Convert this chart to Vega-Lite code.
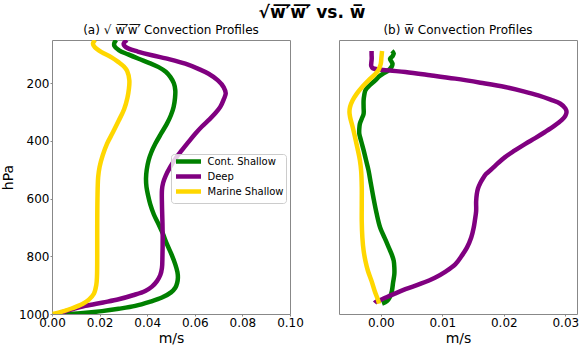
{
  "$schema": "https://vega.github.io/schema/vega-lite/v6.json",
  "padding": {"left": 0, "top": 3, "right": 2, "bottom": 0},
  "background": "white",
  "config": {
    "font": "DejaVu Sans",
    "view": {"stroke": "#888888", "strokeWidth": 1},
    "axis": {"domain": false, "grid": false, "tickColor": "#888888", "tickSize": 2, "labelPadding": 1, "labelFontSize": 12, "labelColor": "#000000", "titleFontSize": 14, "titleFontWeight": "normal", "titleColor": "#000000", "labelFlush": false, "titlePadding": 3},
    "title": {"fontSize": 12, "fontWeight": "normal", "color": "#000000", "offset": 3}
  },
  "title": {"text": "√w̅′̅w̅′̅  vs. w̅", "fontSize": 17, "fontWeight": "bold", "anchor": "middle", "dx": 22, "offset": 2},
  "spacing": 34,
  "resolve": {"scale": {"color": "shared"}, "legend": {"color": "independent"}},
  "datasets": {
    "sd": [
      {"type": "Cont. Shallow", "p": 50, "v": 0.0270},
      {"type": "Cont. Shallow", "p": 60, "v": 0.0262},
      {"type": "Cont. Shallow", "p": 70, "v": 0.0262},
      {"type": "Cont. Shallow", "p": 86, "v": 0.0282},
      {"type": "Cont. Shallow", "p": 100, "v": 0.0320},
      {"type": "Cont. Shallow", "p": 115, "v": 0.0364},
      {"type": "Cont. Shallow", "p": 130, "v": 0.0410},
      {"type": "Cont. Shallow", "p": 144, "v": 0.0448},
      {"type": "Cont. Shallow", "p": 160, "v": 0.0478},
      {"type": "Cont. Shallow", "p": 178, "v": 0.0497},
      {"type": "Cont. Shallow", "p": 200, "v": 0.0512},
      {"type": "Cont. Shallow", "p": 224, "v": 0.0518},
      {"type": "Cont. Shallow", "p": 250, "v": 0.0517},
      {"type": "Cont. Shallow", "p": 282, "v": 0.0511},
      {"type": "Cont. Shallow", "p": 310, "v": 0.0500},
      {"type": "Cont. Shallow", "p": 340, "v": 0.0483},
      {"type": "Cont. Shallow", "p": 375, "v": 0.0458},
      {"type": "Cont. Shallow", "p": 410, "v": 0.0434},
      {"type": "Cont. Shallow", "p": 440, "v": 0.0417},
      {"type": "Cont. Shallow", "p": 467, "v": 0.0406},
      {"type": "Cont. Shallow", "p": 500, "v": 0.0398},
      {"type": "Cont. Shallow", "p": 530, "v": 0.0395},
      {"type": "Cont. Shallow", "p": 560, "v": 0.0397},
      {"type": "Cont. Shallow", "p": 590, "v": 0.0404},
      {"type": "Cont. Shallow", "p": 620, "v": 0.0413},
      {"type": "Cont. Shallow", "p": 655, "v": 0.0428},
      {"type": "Cont. Shallow", "p": 689, "v": 0.0448},
      {"type": "Cont. Shallow", "p": 720, "v": 0.0465},
      {"type": "Cont. Shallow", "p": 758, "v": 0.0483},
      {"type": "Cont. Shallow", "p": 795, "v": 0.0503},
      {"type": "Cont. Shallow", "p": 828, "v": 0.0518},
      {"type": "Cont. Shallow", "p": 855, "v": 0.0527},
      {"type": "Cont. Shallow", "p": 874, "v": 0.0529},
      {"type": "Cont. Shallow", "p": 892, "v": 0.0526},
      {"type": "Cont. Shallow", "p": 909, "v": 0.0518},
      {"type": "Cont. Shallow", "p": 925, "v": 0.0500},
      {"type": "Cont. Shallow", "p": 943, "v": 0.0462},
      {"type": "Cont. Shallow", "p": 958, "v": 0.0410},
      {"type": "Cont. Shallow", "p": 972, "v": 0.0350},
      {"type": "Cont. Shallow", "p": 982, "v": 0.0280},
      {"type": "Cont. Shallow", "p": 990, "v": 0.0210},
      {"type": "Cont. Shallow", "p": 997, "v": 0.0120},
      {"type": "Cont. Shallow", "p": 1000, "v": 0.0050},
      {"type": "Deep", "p": 50, "v": 0.0315},
      {"type": "Deep", "p": 63, "v": 0.0301},
      {"type": "Deep", "p": 72, "v": 0.0306},
      {"type": "Deep", "p": 80, "v": 0.0322},
      {"type": "Deep", "p": 90, "v": 0.0360},
      {"type": "Deep", "p": 103, "v": 0.0420},
      {"type": "Deep", "p": 117, "v": 0.0495},
      {"type": "Deep", "p": 132, "v": 0.0560},
      {"type": "Deep", "p": 150, "v": 0.0615},
      {"type": "Deep", "p": 167, "v": 0.0658},
      {"type": "Deep", "p": 190, "v": 0.0697},
      {"type": "Deep", "p": 213, "v": 0.0721},
      {"type": "Deep", "p": 235, "v": 0.0730},
      {"type": "Deep", "p": 255, "v": 0.0722},
      {"type": "Deep", "p": 282, "v": 0.0707},
      {"type": "Deep", "p": 305, "v": 0.0685},
      {"type": "Deep", "p": 328, "v": 0.0658},
      {"type": "Deep", "p": 350, "v": 0.0630},
      {"type": "Deep", "p": 375, "v": 0.0602},
      {"type": "Deep", "p": 405, "v": 0.0572},
      {"type": "Deep", "p": 432, "v": 0.0546},
      {"type": "Deep", "p": 460, "v": 0.0520},
      {"type": "Deep", "p": 490, "v": 0.0497},
      {"type": "Deep", "p": 520, "v": 0.0478},
      {"type": "Deep", "p": 545, "v": 0.0467},
      {"type": "Deep", "p": 570, "v": 0.0462},
      {"type": "Deep", "p": 620, "v": 0.0462},
      {"type": "Deep", "p": 680, "v": 0.0464},
      {"type": "Deep", "p": 735, "v": 0.0465},
      {"type": "Deep", "p": 800, "v": 0.0464},
      {"type": "Deep", "p": 840, "v": 0.0462},
      {"type": "Deep", "p": 865, "v": 0.0455},
      {"type": "Deep", "p": 886, "v": 0.0441},
      {"type": "Deep", "p": 905, "v": 0.0420},
      {"type": "Deep", "p": 920, "v": 0.0392},
      {"type": "Deep", "p": 935, "v": 0.0340},
      {"type": "Deep", "p": 949, "v": 0.0280},
      {"type": "Deep", "p": 960, "v": 0.0215},
      {"type": "Deep", "p": 972, "v": 0.0140},
      {"type": "Deep", "p": 985, "v": 0.0080},
      {"type": "Deep", "p": 995, "v": 0.0040},
      {"type": "Deep", "p": 1000, "v": 0.0020},
      {"type": "Marine Shallow", "p": 50, "v": 0.0181},
      {"type": "Marine Shallow", "p": 63, "v": 0.0172},
      {"type": "Marine Shallow", "p": 75, "v": 0.0180},
      {"type": "Marine Shallow", "p": 92, "v": 0.0208},
      {"type": "Marine Shallow", "p": 110, "v": 0.0250},
      {"type": "Marine Shallow", "p": 126, "v": 0.0278},
      {"type": "Marine Shallow", "p": 142, "v": 0.0302},
      {"type": "Marine Shallow", "p": 158, "v": 0.0316},
      {"type": "Marine Shallow", "p": 190, "v": 0.0325},
      {"type": "Marine Shallow", "p": 220, "v": 0.0323},
      {"type": "Marine Shallow", "p": 250, "v": 0.0317},
      {"type": "Marine Shallow", "p": 290, "v": 0.0303},
      {"type": "Marine Shallow", "p": 330, "v": 0.0280},
      {"type": "Marine Shallow", "p": 370, "v": 0.0256},
      {"type": "Marine Shallow", "p": 410, "v": 0.0231},
      {"type": "Marine Shallow", "p": 450, "v": 0.0213},
      {"type": "Marine Shallow", "p": 490, "v": 0.0200},
      {"type": "Marine Shallow", "p": 525, "v": 0.0194},
      {"type": "Marine Shallow", "p": 600, "v": 0.0191},
      {"type": "Marine Shallow", "p": 700, "v": 0.0190},
      {"type": "Marine Shallow", "p": 800, "v": 0.0190},
      {"type": "Marine Shallow", "p": 870, "v": 0.0189},
      {"type": "Marine Shallow", "p": 900, "v": 0.0186},
      {"type": "Marine Shallow", "p": 930, "v": 0.0176},
      {"type": "Marine Shallow", "p": 950, "v": 0.0155},
      {"type": "Marine Shallow", "p": 965, "v": 0.0128},
      {"type": "Marine Shallow", "p": 980, "v": 0.0085},
      {"type": "Marine Shallow", "p": 990, "v": 0.0050},
      {"type": "Marine Shallow", "p": 1000, "v": 0.0003}
    ],
    "mean": [
      {"type": "Cont. Shallow", "p": 88, "v": 0.0018},
      {"type": "Cont. Shallow", "p": 97, "v": 0.0021},
      {"type": "Cont. Shallow", "p": 106, "v": 0.0019},
      {"type": "Cont. Shallow", "p": 115, "v": 0.0015},
      {"type": "Cont. Shallow", "p": 124, "v": 0.0017},
      {"type": "Cont. Shallow", "p": 132, "v": 0.0019},
      {"type": "Cont. Shallow", "p": 141, "v": 0.0018},
      {"type": "Cont. Shallow", "p": 150, "v": 0.0015},
      {"type": "Cont. Shallow", "p": 158, "v": 0.0011},
      {"type": "Cont. Shallow", "p": 165, "v": 0.0005},
      {"type": "Cont. Shallow", "p": 175, "v": -0.0002},
      {"type": "Cont. Shallow", "p": 190, "v": -0.0009},
      {"type": "Cont. Shallow", "p": 207, "v": -0.0018},
      {"type": "Cont. Shallow", "p": 224, "v": -0.0025},
      {"type": "Cont. Shallow", "p": 242, "v": -0.0027},
      {"type": "Cont. Shallow", "p": 259, "v": -0.0028},
      {"type": "Cont. Shallow", "p": 283, "v": -0.0028},
      {"type": "Cont. Shallow", "p": 306, "v": -0.0028},
      {"type": "Cont. Shallow", "p": 323, "v": -0.0031},
      {"type": "Cont. Shallow", "p": 340, "v": -0.0034},
      {"type": "Cont. Shallow", "p": 357, "v": -0.0035},
      {"type": "Cont. Shallow", "p": 375, "v": -0.0035},
      {"type": "Cont. Shallow", "p": 400, "v": -0.0032},
      {"type": "Cont. Shallow", "p": 432, "v": -0.0028},
      {"type": "Cont. Shallow", "p": 467, "v": -0.0024},
      {"type": "Cont. Shallow", "p": 502, "v": -0.0020},
      {"type": "Cont. Shallow", "p": 550, "v": -0.0016},
      {"type": "Cont. Shallow", "p": 597, "v": -0.0012},
      {"type": "Cont. Shallow", "p": 650, "v": -0.0007},
      {"type": "Cont. Shallow", "p": 701, "v": -0.0001},
      {"type": "Cont. Shallow", "p": 735, "v": 0.0006},
      {"type": "Cont. Shallow", "p": 770, "v": 0.0013},
      {"type": "Cont. Shallow", "p": 795, "v": 0.0018},
      {"type": "Cont. Shallow", "p": 816, "v": 0.0021},
      {"type": "Cont. Shallow", "p": 840, "v": 0.0022},
      {"type": "Cont. Shallow", "p": 862, "v": 0.0022},
      {"type": "Cont. Shallow", "p": 890, "v": 0.0020},
      {"type": "Cont. Shallow", "p": 920, "v": 0.0018},
      {"type": "Cont. Shallow", "p": 940, "v": 0.0015},
      {"type": "Cont. Shallow", "p": 955, "v": 0.0010},
      {"type": "Cont. Shallow", "p": 964, "v": 0.0002},
      {"type": "Deep", "p": 88, "v": -0.0015},
      {"type": "Deep", "p": 100, "v": -0.0015},
      {"type": "Deep", "p": 115, "v": -0.00148},
      {"type": "Deep", "p": 130, "v": -0.00155},
      {"type": "Deep", "p": 140, "v": -0.00156},
      {"type": "Deep", "p": 148, "v": -0.0013},
      {"type": "Deep", "p": 152, "v": -0.0002},
      {"type": "Deep", "p": 156, "v": 0.0015},
      {"type": "Deep", "p": 161, "v": 0.0040},
      {"type": "Deep", "p": 172, "v": 0.0080},
      {"type": "Deep", "p": 184, "v": 0.0121},
      {"type": "Deep", "p": 198, "v": 0.0162},
      {"type": "Deep", "p": 213, "v": 0.0202},
      {"type": "Deep", "p": 228, "v": 0.0232},
      {"type": "Deep", "p": 242, "v": 0.0256},
      {"type": "Deep", "p": 257, "v": 0.0276},
      {"type": "Deep", "p": 271, "v": 0.0292},
      {"type": "Deep", "p": 287, "v": 0.0300},
      {"type": "Deep", "p": 300, "v": 0.0302},
      {"type": "Deep", "p": 313, "v": 0.0300},
      {"type": "Deep", "p": 328, "v": 0.0294},
      {"type": "Deep", "p": 348, "v": 0.0282},
      {"type": "Deep", "p": 369, "v": 0.0267},
      {"type": "Deep", "p": 390, "v": 0.0251},
      {"type": "Deep", "p": 410, "v": 0.0235},
      {"type": "Deep", "p": 433, "v": 0.0218},
      {"type": "Deep", "p": 456, "v": 0.0202},
      {"type": "Deep", "p": 478, "v": 0.0190},
      {"type": "Deep", "p": 496, "v": 0.0181},
      {"type": "Deep", "p": 515, "v": 0.0171},
      {"type": "Deep", "p": 530, "v": 0.0166},
      {"type": "Deep", "p": 545, "v": 0.0162},
      {"type": "Deep", "p": 565, "v": 0.0158},
      {"type": "Deep", "p": 585, "v": 0.0156},
      {"type": "Deep", "p": 610, "v": 0.0155},
      {"type": "Deep", "p": 643, "v": 0.0155},
      {"type": "Deep", "p": 675, "v": 0.0153},
      {"type": "Deep", "p": 701, "v": 0.0151},
      {"type": "Deep", "p": 735, "v": 0.0147},
      {"type": "Deep", "p": 770, "v": 0.0140},
      {"type": "Deep", "p": 800, "v": 0.0131},
      {"type": "Deep", "p": 828, "v": 0.0121},
      {"type": "Deep", "p": 852, "v": 0.0106},
      {"type": "Deep", "p": 874, "v": 0.0088},
      {"type": "Deep", "p": 895, "v": 0.0065},
      {"type": "Deep", "p": 914, "v": 0.0040},
      {"type": "Deep", "p": 932, "v": 0.0020},
      {"type": "Deep", "p": 949, "v": 0.0002},
      {"type": "Deep", "p": 958, "v": -0.0008},
      {"type": "Deep", "p": 962, "v": -0.0010},
      {"type": "Marine Shallow", "p": 88, "v": 0.0002},
      {"type": "Marine Shallow", "p": 110, "v": 0.0001},
      {"type": "Marine Shallow", "p": 132, "v": 0.0000},
      {"type": "Marine Shallow", "p": 145, "v": -0.0002},
      {"type": "Marine Shallow", "p": 155, "v": -0.0004},
      {"type": "Marine Shallow", "p": 170, "v": -0.0010},
      {"type": "Marine Shallow", "p": 190, "v": -0.0020},
      {"type": "Marine Shallow", "p": 212, "v": -0.0030},
      {"type": "Marine Shallow", "p": 236, "v": -0.0039},
      {"type": "Marine Shallow", "p": 260, "v": -0.0046},
      {"type": "Marine Shallow", "p": 282, "v": -0.0050},
      {"type": "Marine Shallow", "p": 300, "v": -0.0051},
      {"type": "Marine Shallow", "p": 317, "v": -0.0050},
      {"type": "Marine Shallow", "p": 350, "v": -0.0046},
      {"type": "Marine Shallow", "p": 386, "v": -0.0042},
      {"type": "Marine Shallow", "p": 425, "v": -0.0038},
      {"type": "Marine Shallow", "p": 467, "v": -0.0034},
      {"type": "Marine Shallow", "p": 504, "v": -0.0032},
      {"type": "Marine Shallow", "p": 560, "v": -0.0031},
      {"type": "Marine Shallow", "p": 620, "v": -0.0031},
      {"type": "Marine Shallow", "p": 680, "v": -0.0031},
      {"type": "Marine Shallow", "p": 735, "v": -0.0030},
      {"type": "Marine Shallow", "p": 780, "v": -0.0028},
      {"type": "Marine Shallow", "p": 816, "v": -0.0025},
      {"type": "Marine Shallow", "p": 850, "v": -0.0021},
      {"type": "Marine Shallow", "p": 886, "v": -0.0015},
      {"type": "Marine Shallow", "p": 920, "v": -0.0010},
      {"type": "Marine Shallow", "p": 955, "v": -0.0004},
      {"type": "Marine Shallow", "p": 964, "v": -0.0003}
    ]
  },
  "hconcat": [
    {
      "width": 238,
      "height": 274,
      "title": {"text": "(a) √ w̅′̅w̅′̅  Convection Profiles"},
      "data": {"name": "sd"},
      "mark": {"type": "line", "strokeWidth": 4.5, "interpolate": "catmull-rom", "clip": true},
      "encoding": {
        "x": {"field": "v", "type": "quantitative", "scale": {"domain": [0, 0.1], "nice": false, "zero": false}, "axis": {"values": [0, 0.02, 0.04, 0.06, 0.08, 0.1], "format": ".2f", "title": "m/s", "labelOverlap": false}},
        "y": {"field": "p", "type": "quantitative", "scale": {"domain": [50, 1000], "reverse": true, "nice": false, "zero": false}, "axis": {"values": [200, 400, 600, 800, 1000], "format": "d", "title": "hPa", "labelOverlap": false}},
        "color": {"field": "type", "type": "nominal", "scale": {"domain": ["Cont. Shallow", "Deep", "Marine Shallow"], "range": ["#008000", "#800080", "#FFD700"]},
          "legend": {"orient": "none", "legendX": 119, "legendY": 114, "title": null, "symbolType": "M-1,0H9", "symbolStrokeWidth": 4.5, "symbolSize": 25, "labelFontSize": 10, "labelColor": "#000000", "fillColor": "rgba(255,255,255,0.8)", "strokeColor": "#cccccc", "padding": 2.5, "cornerRadius": 3, "rowPadding": -3, "labelOffset": 24}},
        "order": {"field": "p", "type": "quantitative"}
      }
    },
    {
      "width": 238,
      "height": 274,
      "title": {"text": "(b) w̅ Convection Profiles"},
      "data": {"name": "mean"},
      "mark": {"type": "line", "strokeWidth": 4.5, "interpolate": "catmull-rom", "clip": true},
      "encoding": {
        "x": {"field": "v", "type": "quantitative", "scale": {"domain": [-0.0068, 0.0319], "nice": false, "zero": false}, "axis": {"values": [0, 0.01, 0.02, 0.03], "format": ".2f", "title": "m/s"}},
        "y": {"field": "p", "type": "quantitative", "scale": {"domain": [50, 1000], "reverse": true, "nice": false, "zero": false}, "axis": null},
        "color": {"field": "type", "type": "nominal", "legend": null},
        "order": {"field": "p", "type": "quantitative"}
      }
    }
  ]
}
